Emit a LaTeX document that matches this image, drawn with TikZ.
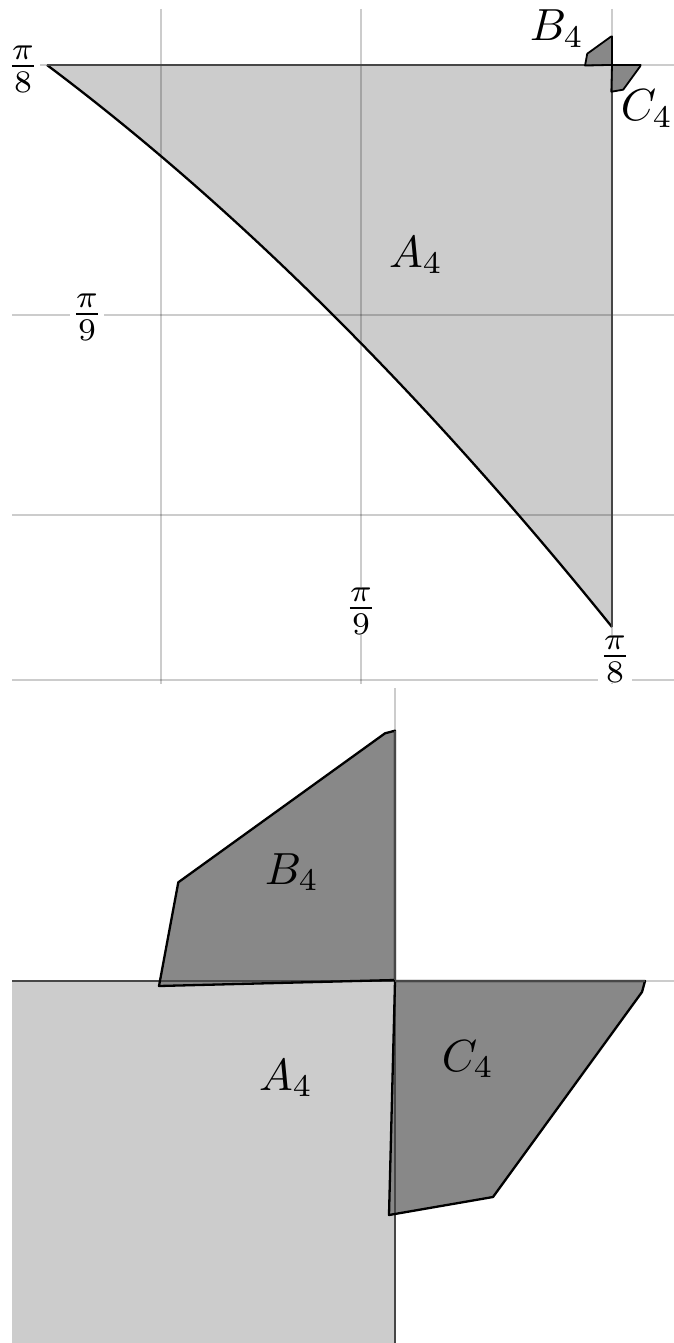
\documentclass[tikz,border=0pt]{standalone}
\definecolor{afillc}{HTML}{CCCCCC}
\definecolor{bcfillc}{HTML}{888888}
\definecolor{edgec}{HTML}{474747}
\tikzset{
  afill/.style={fill=afillc},
  bcfill/.style={fill=bcfillc},
  gridline/.style={draw=black, draw opacity=0.2, line width=2.2pt},
  aedge/.style={draw=edgec, line width=2.7pt},
  curveline/.style={draw=black, line width=2.3pt},
  polyedge/.style={draw=black, line width=2.3pt, line join=round},
  lbl/.style={inner sep=0pt, scale=4.5},
  fraclbl/.style={lbl, fill=white, inner sep=0.1pt}
}
\newcommand\bfourshape{(-236,5) -- (-216.7,-98.7) -- (-10,-247.7) -- (0,-250.3) -- (0,-1) -- cycle}
\newcommand\cfourshape{(0,0) -- (250,0) -- (247,11) -- (98,216) -- (-6,234) -- cycle}
\newcommand\afourcurve{(47,65) .. controls (235.33,206.33) and (423.67,393.67) .. (612,627)}
\begin{document}
\begin{tikzpicture}[x=1pt,y=-1pt]
\useasboundingbox (0,0) rectangle (674,1343);
% ---------- top panel ----------
\fill[afill] \afourcurve -- (612,65) -- cycle;
\begin{scope}[shift={(612,65)}, scale=1/8.75]
  \fill[bcfill] \bfourshape;
  \fill[bcfill] \cfourshape;
\end{scope}
\foreach \yy in {65,315,515,680} \draw[gridline] (12,\yy) -- (674,\yy);
\foreach \xx in {161,361,612} \draw[gridline] (\xx,9) -- (\xx,684);
\draw[curveline] \afourcurve;
\draw[aedge] (47,65) -- (612,65) -- (612,627);
\begin{scope}[shift={(612,65)}, scale=1/8.75]
  \draw[polyedge, line width=1.8pt] \bfourshape;
  \draw[polyedge, line width=1.8pt] \cfourshape;
\end{scope}
% ---------- bottom panel ----------
\fill[afill] (12,981) rectangle (395,1343);
\begin{scope}[shift={(395,981)}]
  \fill[bcfill] \bfourshape;
  \fill[bcfill] \cfourshape;
\end{scope}
\draw[gridline] (12,981) -- (674,981);
\draw[gridline] (395,688) -- (395,1343);
\draw[aedge] (12,981) -- (395,981) -- (395,1343);
\begin{scope}[shift={(395,981)}]
  \draw[polyedge] \bfourshape;
  \draw[polyedge] \cfourshape;
  \draw[aedge] (0,-250.3) -- (0,-1);
  \draw[aedge] (0,0) -- (250,0);
\end{scope}
% ---------- labels ----------
\node[fraclbl] (p8a) at (23,69) {$\frac{\pi}{8}$};
\node[fraclbl] (p9a) at (87,317) {$\frac{\pi}{9}$};
\node[fraclbl] (p9b) at (361,611) {$\frac{\pi}{9}$};
\node[fraclbl] (p8b) at (615,659) {$\frac{\pi}{8}$};
\node[lbl] (a4t) at (416,255) {$A_4$};
\node[lbl] (b4t) at (557,29) {$B_4$};
\node[lbl] (c4t) at (647,109) {$C_4$};
\node[lbl] (b4b) at (292,872) {$B_4$};
\node[lbl] (a4b) at (286,1078) {$A_4$};
\node[lbl] (c4b) at (468,1059) {$C_4$};
\end{tikzpicture}
\end{document}
